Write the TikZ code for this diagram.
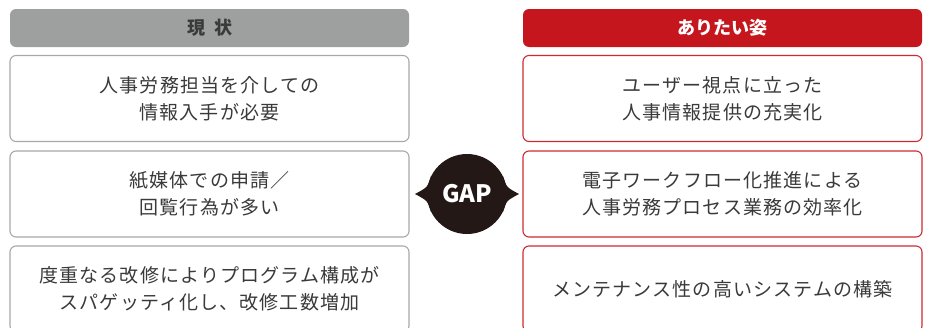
\documentclass[tikz,border=0pt]{standalone}
\usepackage{fontspec}
\setmainfont{Noto Sans CJK JP}
\newfontfamily\boxfont[LetterSpace=6]{Noto Sans CJK JP}
\definecolor{hgray}{HTML}{9E9F9F}
\definecolor{hred}{HTML}{C5161D}
\definecolor{bgray}{HTML}{A8A8A8}
\definecolor{bred}{HTML}{CF2A30}
\definecolor{txt}{HTML}{3A3A3A}
\definecolor{gapc}{HTML}{231815}
\begin{document}
\begin{tikzpicture}[x=1pt,y=-1pt,
  hdr/.style={rectangle, rounded corners=6pt, minimum width=399pt, minimum height=38pt, inner sep=0pt, font=\fontsize{18}{20}\selectfont\bfseries},
  box/.style={rectangle, rounded corners=6pt, draw, line width=1.1pt, minimum width=399pt, minimum height=86pt, fill=white, align=center, inner sep=0pt, text=txt, font=\boxfont\fontsize{19}{27}\selectfont},
  lbox/.style={box, draw=bgray},
  rbox/.style={box, draw=bred}]
\useasboundingbox (0,0) rectangle (929,327);
% headers
\node[hdr, fill=hgray, text=txt] (hl) at (209.5,28) {現\hspace{0.5em}状};
\node[hdr, fill=hred, text=white] (hr) at (722.5,28) {ありたい姿};
% left boxes
\node[lbox] (l1) at (209.5,98.5) {人事労務担当を介しての\\情報入手が必要};
\node[lbox] (l2) at (209.5,194) {紙媒体での申請／\\回覧行為が多い};
\node[lbox] (l3) at (209.5,289) {度重なる改修によりプログラム構成が\\スパゲッティ化し、改修工数増加};
% right boxes
\node[rbox] (r1) at (722.5,98.5) {ユーザー視点に立った\\人事情報提供の充実化};
\node[rbox] (r2) at (722.5,194) {電子ワークフロー化推進による\\人事労務プロセス業務の効率化};
\node[rbox] (r3) at (722.5,289) {メンテナンス性の高いシステムの構築};
% GAP badge
\fill[gapc] (431,176) .. controls (428,187) .. (415,194) .. controls (428,201) .. (431,212) -- cycle;
\fill[gapc] (503,176) .. controls (506,187) .. (519,194) .. controls (506,201) .. (503,212) -- cycle;
\node[circle, fill=gapc, minimum size=80pt, inner sep=0pt, text=white, font=\fontsize{24}{24}\selectfont\bfseries] (gap) at (467,194) {GAP};
\end{tikzpicture}
\end{document}
